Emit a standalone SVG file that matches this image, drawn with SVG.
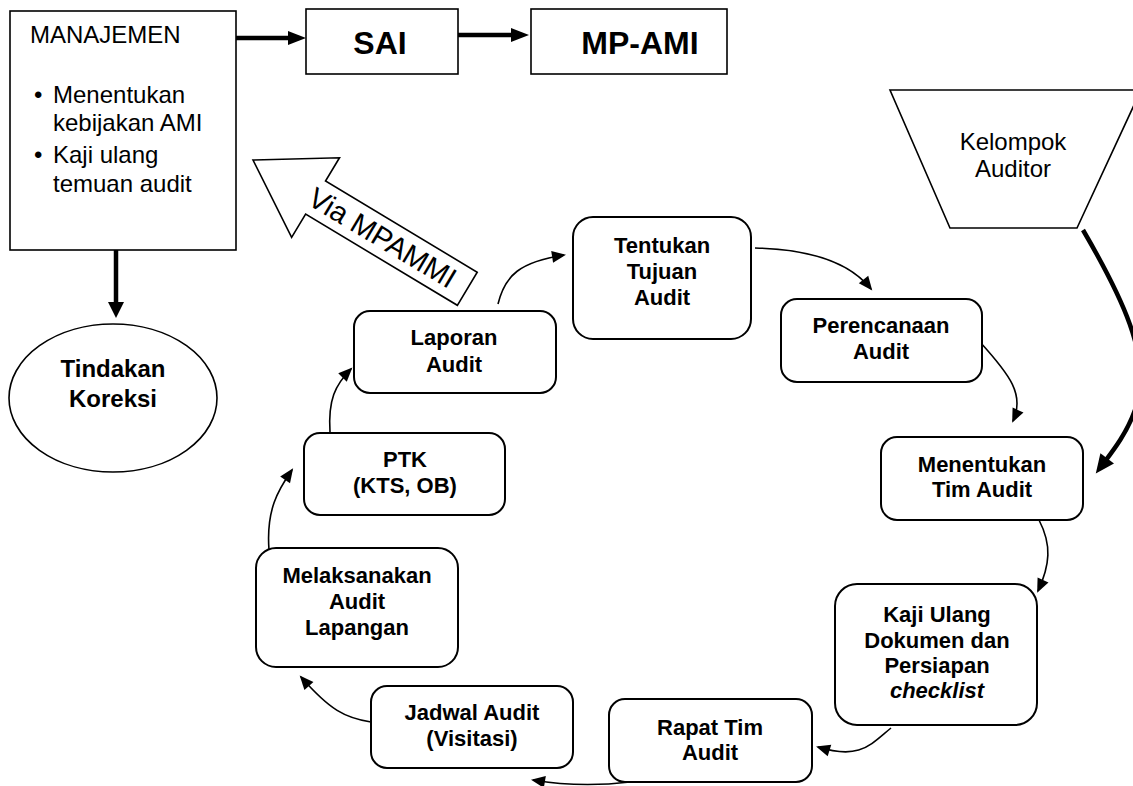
<svg xmlns="http://www.w3.org/2000/svg" width="1133" height="786" viewBox="0 0 1133 786">
  <defs>
    <style>
      .sq { fill: #fff; stroke: #000; stroke-width: 1.6; }
      .rb { fill: #fff; stroke: #000; stroke-width: 2; }
      .thin { fill: none; stroke: #000; stroke-width: 1.6; marker-end: url(#headThin); }
      .thick { fill: none; stroke: #000; stroke-width: 4.5; }
      .bold { font-family: "Liberation Sans", Arial, sans-serif; font-weight: bold; font-size: 22px; text-anchor: middle; fill: #000; }
      .reg { font-family: "Liberation Sans", Arial, sans-serif; font-size: 24px; fill: #000; }
      .big { font-size: 32px; }
    </style>
    <marker id="headThin" markerUnits="userSpaceOnUse" markerWidth="14" markerHeight="12" refX="12" refY="6" orient="auto" overflow="visible">
      <path d="M0,0 L14,6 L0,12 Z" fill="#000"/>
    </marker>
    <marker id="headThick" markerUnits="userSpaceOnUse" markerWidth="19" markerHeight="17" refX="12" refY="8.5" orient="auto" overflow="visible">
      <path d="M0,0 L19,8.5 L0,17 Z" fill="#000"/>
    </marker>
  </defs>

  <rect width="1133" height="786" fill="#fff"/>

  <!-- connectors -->
  <g id="connectors">
    <!-- management flow (thick) -->
    <line class="thick" x1="236" y1="38" x2="290" y2="38" stroke-width="4"/>
    <polygon points="288,31 306,38 288,45" fill="#000"/>
    <line class="thick" x1="458" y1="35" x2="513" y2="35" stroke-width="3.6"/>
    <polygon points="511,28 529,35 511,42" fill="#000"/>
    <line class="thick" x1="116" y1="250" x2="116" y2="303"/>
    <polygon points="108,302 124,302 116,318" fill="#000"/>
    <path class="thick" d="M1083,230 C1118,290 1155,360 1135,410 C1126,435 1112,452 1100,468" marker-end="url(#headThick)"/>

    <!-- audit cycle -->
    <path class="thin" d="M755,248 Q840,250 871,289"/>
    <path class="thin" d="M980,342 C1010,375 1025,395 1013,421"/>
    <path class="thin" d="M1039,520 C1052,545 1050,565 1038,591"/>
    <path class="thin" d="M891,728 C870,745 860,760 818,747"/>
    <path class="thin" d="M630,782 Q580,788 533,780"/>
    <path class="thin" d="M371,722 C345,718 330,710 301,677"/>
    <path class="thin" d="M269,550 C266,510 278,490 292,470"/>
    <path class="thin" d="M330,432 C328,400 335,385 351,369"/>
    <path class="thin" d="M498,304 C505,275 520,262 564,255"/>
  </g>

  <!-- management -->
  <g id="manajemen">
    <rect class="sq" x="10" y="11" width="226" height="239"/>
    <text class="reg" x="30" y="43">MANAJEMEN</text>
    <text class="reg" x="34" y="103">•</text>
    <text class="reg"><tspan x="53" y="103">Menentukan</tspan><tspan x="53" y="131">kebijakan AMI</tspan></text>
    <text class="reg" x="34" y="163">•</text>
    <text class="reg"><tspan x="53" y="163">Kaji ulang</tspan><tspan x="53" y="192">temuan audit</tspan></text>
  </g>

  <g id="sai">
    <rect class="sq" x="306" y="9" width="152" height="65"/>
    <text class="bold big" x="380" y="54">SAI</text>
  </g>

  <g id="mp-ami">
    <rect class="sq" x="531" y="9" width="196" height="65"/>
    <text class="bold big" x="640" y="54">MP-AMI</text>
  </g>

  <g id="tindakan-koreksi">
    <ellipse class="sq" cx="113" cy="398" rx="104" ry="74"/>
    <text class="bold" x="113" y="377" style="font-size:24px">Tindakan</text>
    <text class="bold" x="113" y="407" style="font-size:24px">Koreksi</text>
  </g>

  <g id="kelompok-auditor">
    <polygon class="sq" points="890,90 1141,90 1077,228 950,228"/>
    <text class="reg" text-anchor="middle"><tspan x="1013" y="150">Kelompok</tspan><tspan x="1013" y="177">Auditor</tspan></text>
  </g>

  <g id="via-mpammi" transform="translate(253,160) rotate(31)">
    <polygon class="sq" points="0,0 73,-46.5 73,-19.3 250,-19.3 250,19.3 73,19.3 73,46.5"/>
    <text class="reg" text-anchor="middle" x="151" y="10" style="font-size:29px">Via MPAMMI</text>
  </g>

  <!-- audit cycle steps -->
  <g id="tentukan-tujuan">
    <rect class="rb" x="573" y="217" width="178" height="122" rx="20"/>
    <text class="bold"><tspan x="662" y="253">Tentukan</tspan><tspan x="662" y="279">Tujuan</tspan><tspan x="662" y="305">Audit</tspan></text>
  </g>

  <g id="perencanaan">
    <rect class="rb" x="781" y="299" width="201" height="83" rx="16"/>
    <text class="bold"><tspan x="881" y="333">Perencanaan</tspan><tspan x="881" y="359">Audit</tspan></text>
  </g>

  <g id="menentukan-tim">
    <rect class="rb" x="881" y="437" width="202" height="83" rx="16"/>
    <text class="bold"><tspan x="982" y="472">Menentukan</tspan><tspan x="982" y="497">Tim Audit</tspan></text>
  </g>

  <g id="kaji-ulang">
    <rect class="rb" x="835" y="584" width="202" height="141" rx="22"/>
    <text class="bold"><tspan x="937" y="622">Kaji Ulang</tspan><tspan x="937" y="648">Dokumen dan</tspan><tspan x="937" y="673">Persiapan</tspan><tspan x="937" y="698" font-style="italic">checklist</tspan></text>
  </g>

  <g id="rapat-tim">
    <rect class="rb" x="609" y="699" width="203" height="83" rx="16"/>
    <text class="bold"><tspan x="710" y="735">Rapat Tim</tspan><tspan x="710" y="760">Audit</tspan></text>
  </g>

  <g id="jadwal-audit">
    <rect class="rb" x="371" y="686" width="202" height="82" rx="16"/>
    <text class="bold"><tspan x="472" y="720">Jadwal Audit</tspan><tspan x="472" y="746">(Visitasi)</tspan></text>
  </g>

  <g id="melaksanakan">
    <rect class="rb" x="256" y="548" width="202" height="119" rx="20"/>
    <text class="bold"><tspan x="357" y="583">Melaksanakan</tspan><tspan x="357" y="609">Audit</tspan><tspan x="357" y="635">Lapangan</tspan></text>
  </g>

  <g id="ptk">
    <rect class="rb" x="304" y="433" width="201" height="82" rx="16"/>
    <text class="bold"><tspan x="405" y="467">PTK</tspan><tspan x="405" y="493">(KTS, OB)</tspan></text>
  </g>

  <g id="laporan-audit">
    <rect class="rb" x="354" y="311" width="202" height="82" rx="16"/>
    <text class="bold"><tspan x="454" y="345">Laporan</tspan><tspan x="454" y="372">Audit</tspan></text>
  </g>
</svg>
